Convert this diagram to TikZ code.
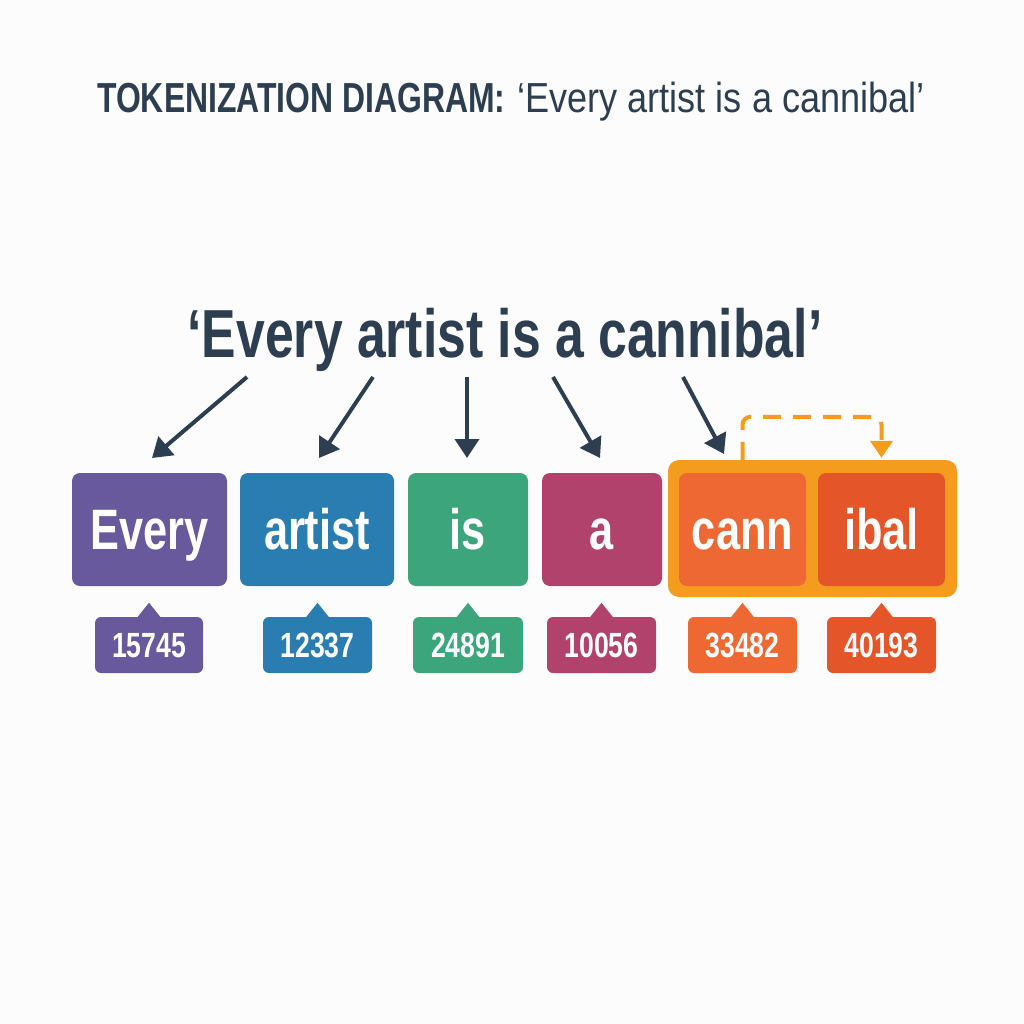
\documentclass[tikz,border=0pt]{standalone}
\usepackage{fontspec}
\setmainfont{Liberation Sans}
\newfontfamily\condf[FakeStretch=0.76]{Liberation Sans}
\newfontfamily\condreg[FakeStretch=0.86]{Liberation Sans}
\usetikzlibrary{arrows.meta,calc}
\definecolor{ink}{HTML}{2C3E50}
\definecolor{cpurple}{HTML}{67599B}
\definecolor{cblue}{HTML}{2A7DB1}
\definecolor{cgreen}{HTML}{3DA57B}
\definecolor{cmag}{HTML}{B0426C}
\definecolor{corange}{HTML}{F39C1E}
\definecolor{ccann}{HTML}{EE6834}
\definecolor{cibal}{HTML}{E4562A}
\definecolor{bg}{HTML}{FCFCFC}
\tikzset{
  tokbox/.style={rounded corners=8pt, minimum height=113pt, inner sep=0pt,
    text=white, font=\condf\bfseries\fontsize{57pt}{57pt}\selectfont,
    text height=40pt, text depth=0pt},
  idtag/.style={rounded corners=6pt, minimum height=56pt, minimum width=109pt, inner sep=0pt,
    text=white, font=\condf\bfseries\fontsize{35pt}{35pt}\selectfont,
    text height=25pt, text depth=0pt},
  tokarrow/.style={draw=ink, line width=4pt, -{Triangle[length=19pt,width=24pt]}},
  splitarrow/.style={draw=corange, line width=4pt, dash pattern=on 18pt off 12pt,
    rounded corners=8pt, -{Triangle[length=17pt,width=22pt]}},
}
\newcommand{\tagpointer}[2]{%
  \fill[#2] ($(#1.north)+(-12,1)$) -- ($(#1.north)+(0,-14)$) -- ($(#1.north)+(12,1)$) -- cycle;}
\begin{document}
\begin{tikzpicture}[x=1pt,y=-1pt]
\fill[bg] (0,0) rectangle (1024,1024);
\useasboundingbox (0,0) rectangle (1024,1024);

% title
\node[anchor=base, text=ink, inner sep=0pt] (title) at (511,113)
  {\fontsize{42pt}{42pt}\selectfont{\condf\bfseries TOKENIZATION DIAGRAM:} {\condreg ‘Every artist is a cannibal’}};

% sentence
\node[anchor=base, text=ink, inner sep=0pt, font=\condf\bfseries\fontsize{68pt}{68pt}\selectfont] (sentence) at (505,357)
  {‘Every artist is a cannibal’};

% outer orange group
\node[fill=corange, rounded corners=11pt, minimum width=289pt, minimum height=137pt, inner sep=0pt] (outer) at (812.5,528.5) {};

% token boxes
\node[tokbox, fill=cpurple, minimum width=155pt] (every) at (149.5,529.5) {Every};
\node[tokbox, fill=cblue, minimum width=154pt] (artist) at (317,529.5) {artist};
\node[tokbox, fill=cgreen, minimum width=120pt] (is) at (468,529.5) {is};
\node[tokbox, fill=cmag, minimum width=120pt] (a) at (602,529.5) {a};
\node[tokbox, fill=ccann, minimum width=127pt] (cann) at (742.5,529.5) {cann};
\node[tokbox, fill=cibal, minimum width=127pt] (ibal) at (881.5,529.5) {ibal};

% id tags
\node[idtag, fill=cpurple, minimum width=108pt] (id1) at (149,645) {15745};
\node[idtag, fill=cblue] (id2) at (317.5,645) {12337};
\node[idtag, fill=cgreen, minimum width=110pt] (id3) at (468,645) {24891};
\node[idtag, fill=cmag] (id4) at (601.5,645) {10056};
\node[idtag, fill=ccann] (id5) at (742.5,645) {33482};
\node[idtag, fill=cibal] (id6) at (881.5,645) {40193};
\tagpointer{id1}{cpurple}
\tagpointer{id2}{cblue}
\tagpointer{id3}{cgreen}
\tagpointer{id4}{cmag}
\tagpointer{id5}{ccann}
\tagpointer{id6}{cibal}

% arrows from the sentence to the tokens
\coordinate (s1) at (247,377); \coordinate (t1) at (152,458);
\coordinate (s2) at (373,377); \coordinate (t2) at (319,458);
\coordinate (s3) at (467,377); \coordinate (t3) at (467,458);
\coordinate (s4) at (553,377); \coordinate (t4) at (600,458);
\coordinate (s5) at (683,377); \coordinate (t5) at (724,454);
\draw[tokarrow] (s1) -- (t1);
\draw[tokarrow] (s2) -- (t2);
\draw[tokarrow] (s3) -- (t3);
\draw[tokarrow] (s4) -- (t4);
\draw[tokarrow] (s5) -- (t5);

% split connector
\coordinate (dstart) at (outer.north -| cann.north);
\coordinate (dend) at ($(outer.north -| ibal.north)+(0,-2)$);
\draw[splitarrow] (dstart) -- ++(0,-43) -| (dend);
\end{tikzpicture}
\end{document}
